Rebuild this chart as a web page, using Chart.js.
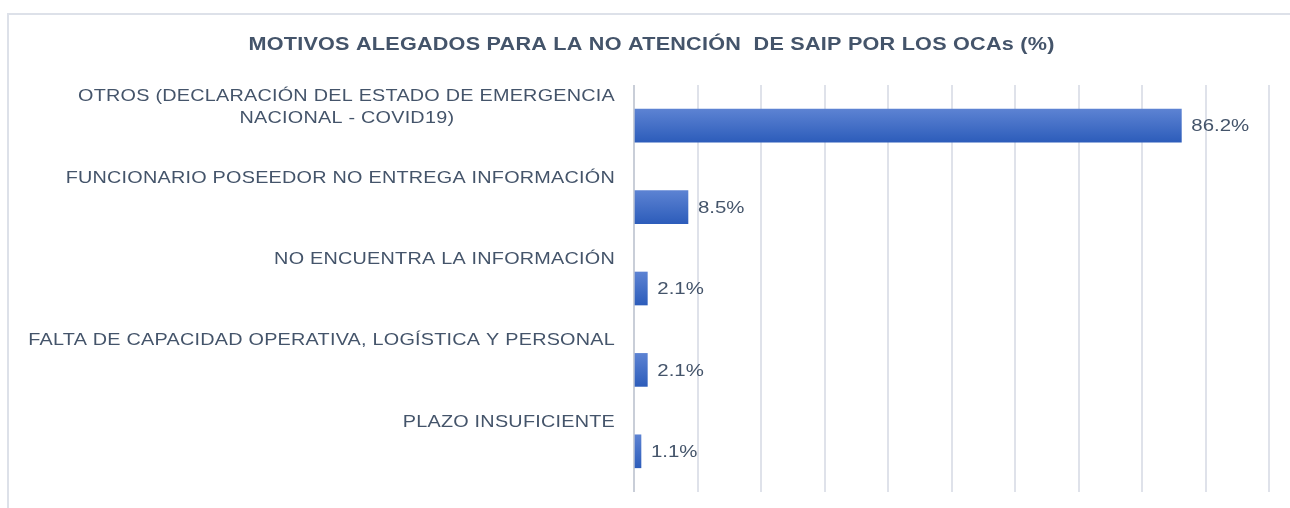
<!DOCTYPE html>
<html>
<head>
<meta charset="utf-8">
<script src="https://cdn.jsdelivr.net/npm/chart.js@4.4.1/dist/chart.umd.min.js"></script>
<style>
  html, body { margin: 0; padding: 0; background: #ffffff; }
  #wrap { position: relative; width: 1290px; height: 508px; }
</style>
</head>
<body>
<div id="wrap"><canvas id="c" width="1290" height="508"></canvas></div>
<script>
const categories = [
  ["OTROS (DECLARACIÓN DEL ESTADO DE EMERGENCIA", "NACIONAL - COVID19)"],
  "FUNCIONARIO POSEEDOR NO ENTREGA INFORMACIÓN",
  "NO ENCUENTRA LA INFORMACIÓN",
  "FALTA DE CAPACIDAD OPERATIVA, LOGÍSTICA Y PERSONAL",
  "PLAZO INSUFICIENTE"
];
const values = [86.2, 8.5, 2.1, 2.1, 1.1];
const chartTitle = "MOTIVOS ALEGADOS PARA LA NO ATENCIÓN  DE SAIP POR LOS OCAs (%)";
const xTicks = [0, 10, 20, 30, 40, 50, 60, 70, 80, 90, 100];

const FONT = '"Liberation Sans", Arial, sans-serif';
const TEXT = '#44546a';
const LS = '0.2px';   // letter spacing of title and category labels
const SX = 1.2;       // horizontal stretch of all text, as in the reference

const canvas = document.getElementById('c');
const ctx0 = canvas.getContext('2d');
const origFill = ctx0.fillText.bind(ctx0);
ctx0.fillText = function (text, x, y, maxWidth) {
  this.save();
  this.translate(x, y);
  this.scale(SX, 1);
  if (maxWidth !== undefined && maxWidth !== null) origFill(text, 0, 0, maxWidth / SX);
  else origFill(text, 0, 0);
  this.restore();
};

const mctx = document.createElement('canvas').getContext('2d');
mctx.font = '16.5px ' + FONT;
mctx.letterSpacing = LS;
function blockLines(label) {
  if (!Array.isArray(label)) return [label, ''];
  const widths = label.map(l => mctx.measureText(l).width);
  const w = Math.max(...widths);
  const sp = mctx.measureText(' ').width;
  return label.map((l, i) => l + ' '.repeat(Math.max(0, Math.round((w - widths[i]) / 2 / sp))));
}

const framePlugin = {
  id: 'frame',
  beforeDraw(chart) {
    const ctx = chart.ctx;
    ctx.save();
    ctx.fillStyle = '#ffffff';
    ctx.fillRect(0, 0, chart.width, chart.height);
    ctx.strokeStyle = '#dde1e9';
    ctx.lineWidth = 2;
    ctx.beginPath();
    ctx.moveTo(8, chart.height + 5);
    ctx.lineTo(8, 14);
    ctx.lineTo(chart.width + 5, 14);
    ctx.stroke();
    ctx.restore();
    ctx.letterSpacing = LS;
  },
  beforeDatasetsDraw(chart) {
    chart.ctx.letterSpacing = '0px';
  },
  afterDatasetsDraw(chart) {
    const ctx = chart.ctx;
    const meta = chart.getDatasetMeta(0);
    ctx.save();
    ctx.letterSpacing = '0px';
    ctx.font = '17px ' + FONT;
    ctx.fillStyle = TEXT;
    ctx.textAlign = 'left';
    ctx.textBaseline = 'middle';
    meta.data.forEach((bar, i) => {
      ctx.fillText(values[i].toFixed(1) + '%', bar.x + 10, bar.y + 1);
    });
    ctx.restore();
  }
};

new Chart(canvas, {
  type: 'bar',
  data: {
    labels: categories,
    datasets: [{
      data: values,
      barThickness: 33,
      borderWidth: 0,
      backgroundColor: (c) => {
        const chart = c.chart;
        if (!chart.chartArea || c.dataIndex === undefined) return '#4472c4';
        const yc = chart.scales.y.getPixelForValue(c.dataIndex);
        const g = chart.ctx.createLinearGradient(0, yc - 17, 0, yc + 17);
        g.addColorStop(0, '#5d83d3');
        g.addColorStop(1, '#2c5cba');
        return g;
      }
    }]
  },
  options: {
    indexAxis: 'y',
    responsive: false,
    animation: false,
    devicePixelRatio: 1,
    layout: { padding: { left: 13, right: 0, top: 0, bottom: 16 } },
    plugins: {
      legend: { display: false },
      tooltip: { enabled: false },
      title: {
        display: true,
        text: chartTitle,
        color: TEXT,
        font: { family: FONT, size: 18, weight: 'bold', lineHeight: 1.2 },
        padding: { top: 34, bottom: 29.4 }
      }
    },
    scales: {
      x: {
        type: 'linear',
        min: xTicks[0],
        max: xTicks[xTicks.length - 1],
        afterBuildTicks: (s) => { s.ticks = xTicks.map(v => ({ value: v })); },
        afterFit: (s) => { s.height = 0; s.paddingLeft = 0; s.paddingRight = 0; },
        ticks: { display: false },
        border: { display: false },
        grid: {
          drawTicks: false,
          lineWidth: 2,
          color: (c) => (c.tick && c.tick.value === 0) ? '#c9ced8' : '#dfe2ea'
        }
      },
      y: {
        type: 'category',
        afterFit: (s) => { s.width = 621; s.paddingTop = 0; s.paddingBottom = 0; },
        border: { display: false },
        grid: { display: false, drawTicks: false },
        ticks: {
          color: TEXT,
          padding: 19,
          labelOffset: -18,
          font: { family: FONT, size: 16.5, lineHeight: 22 / 16.5 },
          callback: (v, i) => blockLines(categories[i])
        }
      },
      yRight: {
        type: 'linear',
        axis: 'y',
        position: 'right',
        display: true,
        afterFit: (s) => { s.width = 21; s.paddingTop = 0; s.paddingBottom = 0; },
        ticks: { display: false },
        grid: { display: false, drawTicks: false },
        border: { display: false }
      }
    }
  },
  plugins: [framePlugin]
});
</script>
</body>
</html>
